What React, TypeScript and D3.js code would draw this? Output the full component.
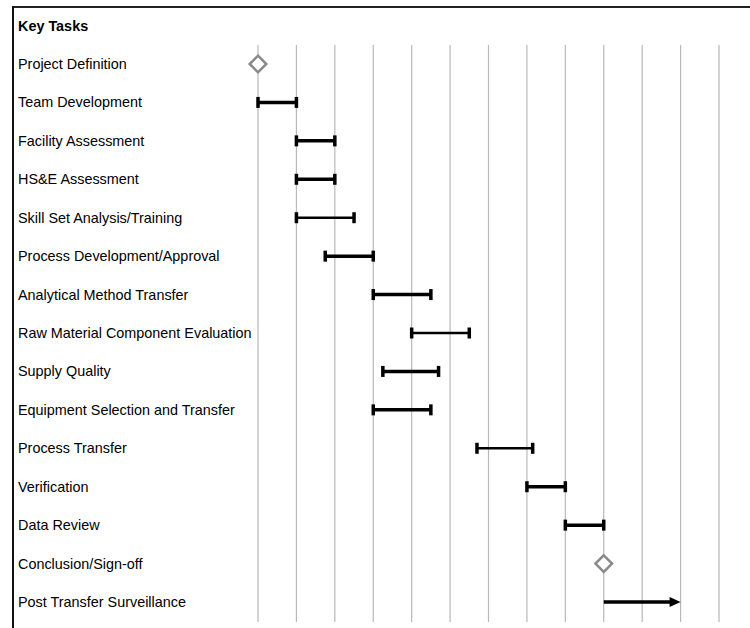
import React from "react";
import * as d3 from "d3";

const tasks = [
  "Project Definition",
  "Team Development",
  "Facility Assessment",
  "HS&E Assessment",
  "Skill Set Analysis/Training",
  "Process Development/Approval",
  "Analytical Method Transfer",
  "Raw Material Component Evaluation",
  "Supply Quality",
  "Equipment Selection and Transfer",
  "Process Transfer",
  "Verification",
  "Data Review",
  "Conclusion/Sign-off",
  "Post Transfer Surveillance",
];
// type: m = milestone, b = bar, a = arrow
const types = ["m", "b", "b", "b", "b", "b", "b", "b", "b", "b", "b", "b", "b", "m", "a"];
const starts = [0, 0, 1, 1, 1, 1.75, 3, 4, 3.25, 3, 5.7, 7, 8, 9, 9];
const ends = [0, 1, 2, 2, 2.5, 3, 4.5, 5.5, 4.7, 4.5, 7.15, 8, 9, 9, 11];
const thin = [false, false, false, false, true, false, false, true, false, false, true, false, false, false, false];
const periods = d3.range(0, 13);

export default function App() {
  const W = 750, H = 628;
  const x = d3.scaleLinear().domain([0, 12]).range([258, 719]);
  const y = d3.scalePoint<string>().domain(tasks).range([64, 602]);
  const font = "'Liberation Sans', Arial, sans-serif";
  return (
    <svg width={W} height={H} style={{ position: "absolute", left: 0, top: 0 }} fontFamily={font}>
      <rect width={W} height={H} fill="#fff" />
      {periods.map((p) => (
        <line key={p} x1={x(p)} x2={x(p)} y1={45} y2={622} stroke="#b8b8b8" strokeWidth={1.2} />
      ))}
      <line x1={12} x2={W} y1={7} y2={7} stroke="#222" strokeWidth={2} />
      <line x1={13} x2={13} y1={6} y2={H} stroke="#111" strokeWidth={2} />
      <text x={18} y={31} fontSize={14.4} fontWeight="bold" fill="#000">Key Tasks</text>
      {tasks.map((t, i) => {
        const cy = y(t)!;
        const x0 = x(starts[i]);
        const x1 = x(ends[i]);
        const sw = thin[i] ? 2.5 : 3.5;
        let mark: React.ReactNode = null;
        if (types[i] === "m") {
          const s = 8.3;
          mark = (
            <path
              d={`M${x0},${cy - s}L${x0 + s},${cy}L${x0},${cy + s}L${x0 - s},${cy}Z`}
              fill="#fff"
              stroke="#8a8a8a"
              strokeWidth={2.5}
            />
          );
        } else if (types[i] === "b") {
          mark = (
            <g>
              <line x1={x0} x2={x1} y1={cy} y2={cy} stroke="#000" strokeWidth={sw} />
              <line x1={x0} x2={x0} y1={cy - 5.5} y2={cy + 5.5} stroke="#000" strokeWidth={3.5} />
              <line x1={x1} x2={x1} y1={cy - 5.5} y2={cy + 5.5} stroke="#000" strokeWidth={3.5} />
            </g>
          );
        } else {
          mark = (
            <g>
              <line x1={x0} x2={x1 - 8} y1={cy} y2={cy} stroke="#000" strokeWidth={3.5} />
              <path d={`M${x1},${cy}L${x1 - 11},${cy - 5}L${x1 - 11},${cy + 5}Z`} fill="#000" />
            </g>
          );
        }
        return (
          <g key={t}>
            <text x={18} y={cy + 5} fontSize={14.4} fill="#000">{t}</text>
            {mark}
          </g>
        );
      })}
    </svg>
  );
}
